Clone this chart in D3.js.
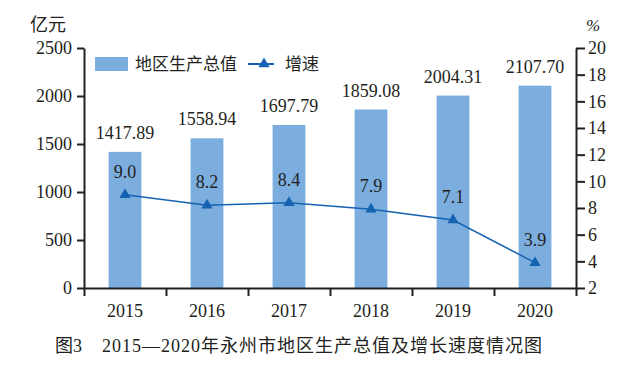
<!DOCTYPE html>
<html>
<head>
<meta charset="utf-8">
<script src="https://cdn.jsdelivr.net/npm/d3@7.9.0/dist/d3.min.js"></script>
<style>
  body { margin: 0; background: #fff; }
  svg text { font-family: "Liberation Serif", "Times New Roman", "Noto Sans CJK SC", serif; fill: #231f20; }
</style>
</head>
<body>
<svg id="chart" width="633" height="386"></svg>
<script>
// data
const years = ["2015", "2016", "2017", "2018", "2019", "2020"];
const gdp = [1417.89, 1558.94, 1697.79, 1859.08, 2004.31, 2107.70];
const growth = [9.0, 8.2, 8.4, 7.9, 7.1, 3.9];
const leftTicks = [0, 500, 1000, 1500, 2000, 2500];
const rightTicks = [2, 4, 6, 8, 10, 12, 14, 16, 18, 20];

const ink = "#231f20";
const barColor = "#7badde";
const lineColor = "#1563b0";
const serif = '"Liberation Serif", "Times New Roman", serif';
const cjk = '"Noto Sans CJK SC", sans-serif';

const plotL = 84, plotR = 576, plotT = 48, plotB = 288;
const svg = d3.select("#chart");

const x = d3.scaleBand().domain(years).range([plotL, plotR]).paddingInner(0.6).paddingOuter(0.3);
const yL = d3.scaleLinear().domain([0, 2500]).range([plotB, plotT]);
const yR = d3.scaleLinear().domain([2, 20]).range([plotB, plotT]);
const cx = (i) => x(years[i]) + x.bandwidth() / 2;

// bars
svg.selectAll("rect.bar")
  .data(gdp)
  .join("rect")
  .attr("class", "bar")
  .attr("x", (d, i) => x(years[i]))
  .attr("y", d => yL(d))
  .attr("width", x.bandwidth())
  .attr("height", d => yL(0) - yL(d))
  .attr("fill", barColor);

// bar labels
svg.selectAll("text.barlab")
  .data(gdp)
  .join("text")
  .attr("class", "barlab")
  .attr("x", (d, i) => cx(i))
  .attr("y", d => yL(d) - 13)
  .attr("text-anchor", "middle")
  .attr("font-size", 18)
  .text(d => d.toFixed(2));

// left axis
const axL = svg.append("g")
  .attr("transform", `translate(${plotL},0)`)
  .call(d3.axisLeft(yL).tickValues(leftTicks).tickFormat(d3.format("d"))
    .tickSize(7).tickPadding(5).tickSizeOuter(0));

// right axis
const axR = svg.append("g")
  .attr("transform", `translate(${plotR},0)`)
  .call(d3.axisRight(yR).tickValues(rightTicks).tickFormat(d3.format("d"))
    .tickSize(9).tickPadding(3).tickSizeOuter(0));

// bottom axis: ticks at category boundaries, labels at centres
const xb = d3.scaleLinear().domain([0, years.length]).range([plotL, plotR]);
const axB = svg.append("g")
  .attr("transform", `translate(0,${plotB})`)
  .call(d3.axisBottom(xb).ticks(years.length).tickSize(8).tickFormat("").tickSizeOuter(0));

svg.selectAll("text.year")
  .data(years)
  .join("text")
  .attr("class", "year")
  .attr("x", (d, i) => cx(i))
  .attr("y", 317)
  .attr("text-anchor", "middle")
  .attr("font-size", 18)
  .text(d => d);

[axL, axR, axB].forEach(g => {
  g.selectAll("path.domain").attr("stroke", ink).attr("stroke-width", 2);
  g.selectAll(".tick line").attr("stroke", ink).attr("stroke-width", 2);
  g.selectAll(".tick text")
    .style("font-size", "18px")
    .style("font-family", serif)
    .style("fill", ink);
});

// growth line
const line = d3.line()
  .x((d, i) => cx(i))
  .y(d => yR(d));

svg.append("path")
  .datum(growth)
  .attr("d", line)
  .attr("fill", "none")
  .attr("stroke", lineColor)
  .attr("stroke-width", 1.5);

const tri = d3.symbol().type(d3.symbolTriangle).size(55);

svg.selectAll("path.mark")
  .data(growth)
  .join("path")
  .attr("class", "mark")
  .attr("d", tri)
  .attr("transform", (d, i) => `translate(${cx(i)},${yR(d)})`)
  .attr("fill", lineColor);

svg.selectAll("text.glab")
  .data(growth)
  .join("text")
  .attr("class", "glab")
  .attr("x", (d, i) => cx(i))
  .attr("y", d => yR(d) - 17)
  .attr("text-anchor", "middle")
  .attr("font-size", 18)
  .text(d => d.toFixed(1));

// unit labels
svg.append("text").attr("x", 30).attr("y", 31).attr("font-size", 18)
  .style("font-family", cjk).text("亿元");
svg.append("text").attr("x", 586).attr("y", 31).attr("font-size", 17)
  .style("font-style", "italic").text("%");

// legend
const lg = svg.append("g");
lg.append("rect").attr("x", 95).attr("y", 57).attr("width", 33).attr("height", 14).attr("fill", barColor);
lg.append("text").attr("x", 135).attr("y", 70).attr("font-size", 17)
  .style("font-family", cjk).text("地区生产总值");
lg.append("line").attr("x1", 248).attr("x2", 274).attr("y1", 64).attr("y2", 64)
  .attr("stroke", lineColor).attr("stroke-width", 2);
lg.append("path").attr("d", tri).attr("transform", "translate(264,64)").attr("fill", lineColor);
lg.append("text").attr("x", 285).attr("y", 70).attr("font-size", 17)
  .style("font-family", cjk).text("增速");

// caption
const capFont = '"Liberation Serif", "Noto Sans CJK SC", serif';
svg.append("text").attr("x", 55).attr("y", 352).attr("font-size", 18)
  .style("font-family", capFont).text("图3");
svg.append("text").attr("x", 102).attr("y", 352).attr("font-size", 18)
  .attr("textLength", 440).attr("lengthAdjust", "spacing")
  .style("font-family", capFont)
  .text("2015—2020年永州市地区生产总值及增长速度情况图");
</script>
</body>
</html>
